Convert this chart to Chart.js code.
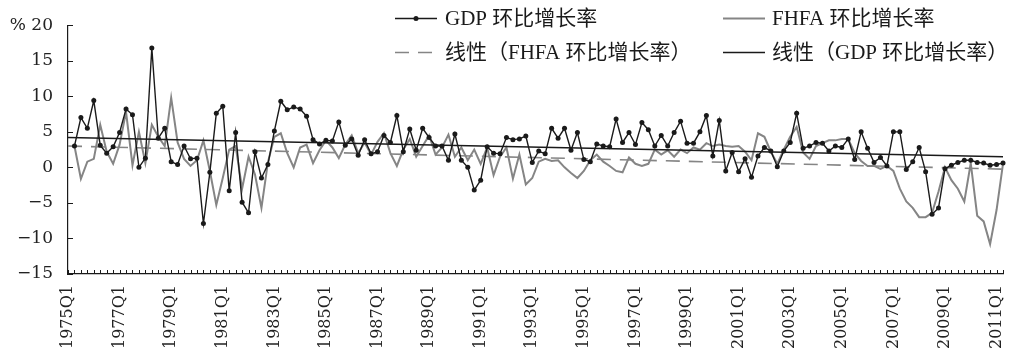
<!DOCTYPE html>
<html>
<head>
<meta charset="utf-8">
<script src="https://cdn.jsdelivr.net/npm/chart.js@4.4.1/dist/chart.umd.min.js"></script>
<style>
  html, body { margin: 0; padding: 0; background: #fff; }
  #wrap { width: 1012px; height: 359px; }
</style>
</head>
<body>
<div id="wrap"><canvas id="chart" width="1012" height="359"></canvas></div>
<script>
// Quarterly categories, 1975Q1 .. 2011Q2
const FIRST_YEAR = 1975, LAST_YEAR = 2011, LAST_QUARTER = 2;
const quarters = [];
for (let y = FIRST_YEAR; y <= LAST_YEAR; y++) {
  for (let q = 1; q <= 4; q++) {
    if (y < LAST_YEAR || q <= LAST_QUARTER) quarters.push(y + 'Q' + q);
  }
}

// Real GDP, quarter-on-quarter growth (annualised, %)
const gdpGrowth = [
  null, 3.0, 7.0, 5.5,     // 1975
  9.4, 3.1, 2.0, 2.9,      // 1976
  4.9, 8.2, 7.4, 0.0,      // 1977
  1.3, 16.8, 4.1, 5.5,     // 1978
  0.8, 0.4, 3.0, 1.2,      // 1979
  1.3, -7.9, -0.7, 7.6,    // 1980
  8.6, -3.3, 4.9, -4.9,    // 1981
  -6.4, 2.2, -1.5, 0.4,    // 1982
  5.1, 9.3, 8.1, 8.5,      // 1983
  8.2, 7.2, 3.9, 3.3,      // 1984
  3.8, 3.7, 6.4, 3.1,      // 1985
  4.0, 1.7, 3.9, 1.9,      // 1986
  2.2, 4.5, 3.5, 7.3,      // 1987
  2.2, 5.4, 2.4, 5.5,      // 1988
  4.2, 3.0, 3.0, 1.0,      // 1989
  4.7, 1.0, 0.0, -3.2,     // 1990
  -1.8, 2.9, 2.0, 1.9,     // 1991
  4.2, 3.9, 4.0, 4.4,      // 1992
  0.7, 2.3, 1.9, 5.5,      // 1993
  4.1, 5.5, 2.4, 4.9,      // 1994
  1.1, 0.8, 3.3, 3.0,      // 1995
  2.9, 6.8, 3.5, 4.9,      // 1996
  3.2, 6.3, 5.3, 3.0,      // 1997
  4.5, 3.0, 4.9, 6.5,      // 1998
  3.4, 3.4, 5.0, 7.3,      // 1999
  1.6, 6.6, -0.5, 2.1,     // 2000
  -0.6, 1.2, -1.4, 1.6,    // 2001
  2.8, 2.3, 0.1, 2.3,      // 2002
  3.5, 7.6, 2.7, 3.0,      // 2003
  3.5, 3.4, 2.3, 3.0,      // 2004
  2.8, 4.0, 1.1, 5.0,      // 2005
  2.7, 0.7, 1.4, 0.2,      // 2006
  5.0, 5.0, -0.3, 0.8,     // 2007
  2.8, -0.6, -6.6, -5.7,   // 2008
  -0.2, 0.3, 0.7, 1.0,     // 2009
  1.0, 0.7, 0.6, 0.3,      // 2010
  0.4, 0.6                 // 2011
];

// FHFA house price index, quarter-on-quarter growth (%)
const fhfaGrowth = [
  null, 3.0, -1.6, 0.8,    // 1975
  1.2, 6.0, 2.2, 0.5,      // 1976
  3.2, 7.8, 0.3, 5.0,      // 1977
  0.6, 6.0, 4.3, 3.0,      // 1978
  9.8, 3.5, 1.2, 0.2,      // 1979
  1.0, 3.8, -0.5, -5.3,    // 1980
  -1.5, 2.5, 3.0, -3.0,    // 1981
  1.5, -1.0, -5.7, 0.7,    // 1982
  4.3, 4.8, 2.0, 0.0,      // 1983
  2.8, 3.2, 0.6, 2.4,      // 1984
  3.8, 2.8, 1.3, 3.2,      // 1985
  4.5, 2.0, 3.5, 1.8,      // 1986
  3.6, 4.8, 2.0, 0.2,      // 1987
  2.5, 4.0, 1.5, 3.0,      // 1988
  4.5, 1.8, 2.8, 4.6,      // 1989
  1.5, 2.8, 1.0, 2.5,      // 1990
  0.5, 2.8, -1.1, 1.5,     // 1991
  2.8, -1.6, 1.8, -2.4,    // 1992
  -1.5, 0.8, 1.2, 0.9,     // 1993
  1.0, 0.0, -0.8, -1.5,    // 1994
  -0.5, 1.0, 1.8, 0.8,     // 1995
  0.2, -0.5, -0.7, 1.4,    // 1996
  0.5, 0.2, 0.5, 2.5,      // 1997
  1.8, 2.4, 1.5, 2.5,      // 1998
  2.0, 2.8, 2.5, 3.4,      // 1999
  3.0, 3.2, 3.0, 2.9,      // 2000
  3.0, 2.2, 1.0, 4.8,      // 2001
  4.3, 2.2, 0.5, 2.5,      // 2002
  4.3, 5.7, 2.1, 1.2,      // 2003
  3.0, 3.4, 3.8, 3.8,      // 2004
  4.0, 4.0, 2.0, 0.9,      // 2005
  0.2, 0.2, -0.2, 0.2,     // 2006
  -0.5, -3.0, -4.8, -5.7,  // 2007
  -7.0, -7.0, -6.4, -3.4,  // 2008
  0.0, -1.8, -3.0, -4.8,   // 2009
  0.6, -6.8, -7.6, -10.8,  // 2010
  -6.0, 0.5                // 2011
];

// Linear trend lines: value at the first and last quarter
const gdpTrend = [4.2, 1.5];
const fhfaTrend = [3.0, -0.25];

// Value axis
const yTicks = [-15, -10, -5, 0, 5, 10, 15, 20];
const yMin = -15, yMax = 20, yStep = 5;

const seriesNames = {
  gdp: 'GDP 环比增长率',
  fhfa: 'FHFA 环比增长率',
  fhfaTrend: '线性（FHFA 环比增长率）',
  gdpTrend: '线性（GDP 环比增长率）'
};

const INK = '#1a1a1a';
const GREY = '#858585';
const LABEL_STEP = 8;

function trendPoints(ends) {
  return [
    { x: quarters[0], y: ends[0] },
    { x: quarters[quarters.length - 1], y: ends[1] }
  ];
}

// Short tick marks pointing into the plot area
const inwardTicks = {
  id: 'inwardTicks',
  afterDraw(chart) {
    const { ctx, chartArea, scales } = chart;
    ctx.save();
    ctx.strokeStyle = INK;
    ctx.lineWidth = 1;
    ctx.beginPath();
    for (let i = 0; i < quarters.length; i++) {
      const px = Math.round(scales.x.getPixelForValue(i)) + 0.5;
      ctx.moveTo(px, chartArea.bottom);
      ctx.lineTo(px, chartArea.bottom - 4);
    }
    yTicks.forEach(v => {
      const py = Math.round(scales.y.getPixelForValue(v)) + 0.5;
      ctx.moveTo(chartArea.left, py);
      ctx.lineTo(chartArea.left + 5, py);
    });
    ctx.stroke();
    ctx.restore();
  }
};

// Two-column legend drawn inside the top of the plot
const seriesLegend = {
  id: 'seriesLegend',
  afterDraw(chart) {
    const ctx = chart.ctx;
    const cols = [395, 723];
    const textX = [445, 772];
    const rows = [18, 52];
    const sampleLen = 42;
    const items = [
      { ds: 0, col: 0, row: 0, name: seriesNames.gdp, dot: true },
      { ds: 3, col: 1, row: 0, name: seriesNames.fhfa },
      { ds: 2, col: 0, row: 1, name: seriesNames.fhfaTrend },
      { ds: 1, col: 1, row: 1, name: seriesNames.gdpTrend }
    ];
    ctx.save();
    items.forEach(it => {
      const ds = chart.data.datasets[it.ds];
      const x0 = cols[it.col], y = rows[it.row];
      ctx.strokeStyle = ds.borderColor;
      ctx.lineWidth = ds.borderWidth;
      ctx.setLineDash(ds.borderDash || []);
      ctx.beginPath();
      ctx.moveTo(x0, y + 0.5);
      ctx.lineTo(x0 + sampleLen, y + 0.5);
      ctx.stroke();
      ctx.setLineDash([]);
      if (it.dot) {
        ctx.fillStyle = ds.pointBackgroundColor;
        ctx.beginPath();
        ctx.arc(x0 + sampleLen / 2, y + 0.5, ds.pointRadius, 0, Math.PI * 2);
        ctx.fill();
      }
      ctx.fillStyle = INK;
      ctx.font = '21px "Liberation Serif", "Noto Sans CJK SC", serif';
      ctx.textBaseline = 'middle';
      ctx.textAlign = 'left';
      ctx.fillText(it.name, textX[it.col], y + 1);
    });
    ctx.restore();
  }
};

new Chart(document.getElementById('chart'), {
  type: 'line',
  data: {
    labels: quarters,
    datasets: [
      {
        label: seriesNames.gdp,
        data: gdpGrowth,
        borderColor: INK,
        borderWidth: 1.4,
        pointRadius: 2.5,
        pointBackgroundColor: INK,
        pointBorderWidth: 0,
        tension: 0
      },
      {
        label: seriesNames.gdpTrend,
        data: trendPoints(gdpTrend),
        borderColor: INK,
        borderWidth: 1.6,
        pointRadius: 0,
        tension: 0
      },
      {
        label: seriesNames.fhfaTrend,
        data: trendPoints(fhfaTrend),
        borderColor: GREY,
        borderWidth: 1.6,
        borderDash: [14, 9],
        pointRadius: 0,
        tension: 0
      },
      {
        label: seriesNames.fhfa,
        data: fhfaGrowth,
        borderColor: GREY,
        borderWidth: 2,
        pointRadius: 0,
        tension: 0
      }
    ]
  },
  options: {
    responsive: false,
    animation: false,
    devicePixelRatio: 1,
    layout: { padding: { top: 14, right: 9, left: 0, bottom: 0 } },
    plugins: {
      legend: { display: false },
      tooltip: { enabled: false }
    },
    scales: {
      x: {
        type: 'category',
        offset: false,
        grid: { display: false, drawTicks: false },
        border: { display: true, color: INK, width: 1.2 },
        ticks: {
          autoSkip: false,
          minRotation: 90,
          maxRotation: 90,
          padding: 11,
          color: '#222',
          font: { family: '"DejaVu Serif", serif', size: 16 },
          callback: (v, i) => (i % LABEL_STEP === 0 ? quarters[i] : '')
        },
        afterFit: s => {
          s.height = 85;
          s.paddingLeft = 0;
          s.paddingRight = 0;
        }
      },
      y: {
        min: yMin,
        max: yMax,
        grid: { display: false, drawTicks: false },
        border: { display: true, color: INK, width: 1.2 },
        ticks: {
          stepSize: yStep,
          padding: 15,
          color: '#222',
          font: { family: '"DejaVu Serif", serif', size: 17 },
          callback: v => (v === yMax ? '% ' + v : (v < 0 ? '\u2212' + Math.abs(v) : String(v)))
        },
        afterFit: s => { s.width = 68; }
      }
    }
  },
  plugins: [inwardTicks, seriesLegend]
});
</script>
</body>
</html>
